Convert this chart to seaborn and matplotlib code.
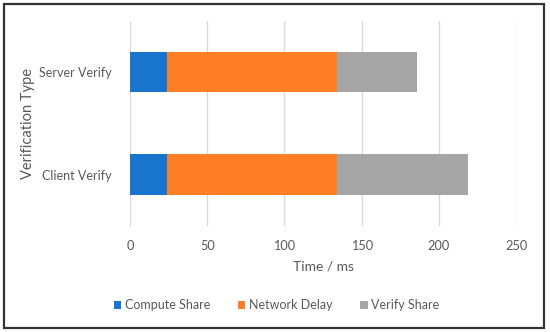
import matplotlib
matplotlib.use("Agg")
import matplotlib.pyplot as plt
import numpy as np
import pandas as pd
import seaborn as sns
from matplotlib.patches import Rectangle

# chart data
verify_types = ["Server Verify", "Client Verify"]
compute_share = [24, 24]
network_delay = [110, 110]
verify_share = [52, 85]
series_names = ["Compute Share", "Network Delay", "Verify Share"]
series_colors = ["#1874CD", "#FF7F27", "#A5A5A5"]
x_ticks = [0, 50, 100, 150, 200, 250]

sns.set_theme(style="white")
plt.rcParams["font.family"] = ["Lato", "DejaVu Sans"]
text_color = "#595959"

df = pd.DataFrame({
    "type": verify_types,
    "Compute Share": compute_share,
    "Network Delay": network_delay,
    "Verify Share": verify_share,
})
# cumulative ends so the stacked segments can be drawn back to front
cum = df[series_names].cumsum(axis=1)

fig = plt.figure(figsize=(5.5, 3.32), dpi=100)
ax = fig.add_axes([0.2364, 0.3193, 0.7018, 0.6187])

for name, color in reversed(list(zip(series_names, series_colors))):
    sns.barplot(x=cum[name], y=df["type"], orient="h", color=color,
                width=0.395, ax=ax, label=name, saturation=1,
                edgecolor="none", zorder=3, legend=False)

ax.set_xlim(0, 250)
ax.set_xticks(x_ticks)
ax.grid(axis="x", color="#D9D9D9", linewidth=1, zorder=0)
ax.grid(axis="y", visible=False)
for s in ax.spines.values():
    s.set_visible(False)
ax.tick_params(axis="both", length=0, labelsize=9.2, labelcolor=text_color, pad=10)
ax.tick_params(axis="y", labelsize=9, pad=13)
ax.set_xlabel("Time / ms", fontsize=10, color=text_color, labelpad=6)
ax.set_ylabel("Verification Type", fontsize=10.5, color=text_color)
ax.yaxis.set_label_coords(-0.245, 0.5)
if ax.get_legend() is not None:
    ax.get_legend().remove()

handles, labels = ax.get_legend_handles_labels()
order = [labels.index(n) for n in series_names]
fig.legend([handles[i] for i in order], [labels[i] for i in order],
           loc="center", bbox_to_anchor=(0.503, 0.081), ncol=3,
           frameon=False, fontsize=9, handlelength=0.6, handleheight=0.6,
           handletextpad=0.3, columnspacing=2.2, labelcolor=text_color)

fig.patches.append(Rectangle((3.5 / 550, 4.3 / 332), 540.5 / 550, 324.2 / 332,
                             transform=fig.transFigure, fill=False,
                             edgecolor="#333333", linewidth=1.6))

fig.savefig("out.png", dpi=100)
plt.close(fig)
